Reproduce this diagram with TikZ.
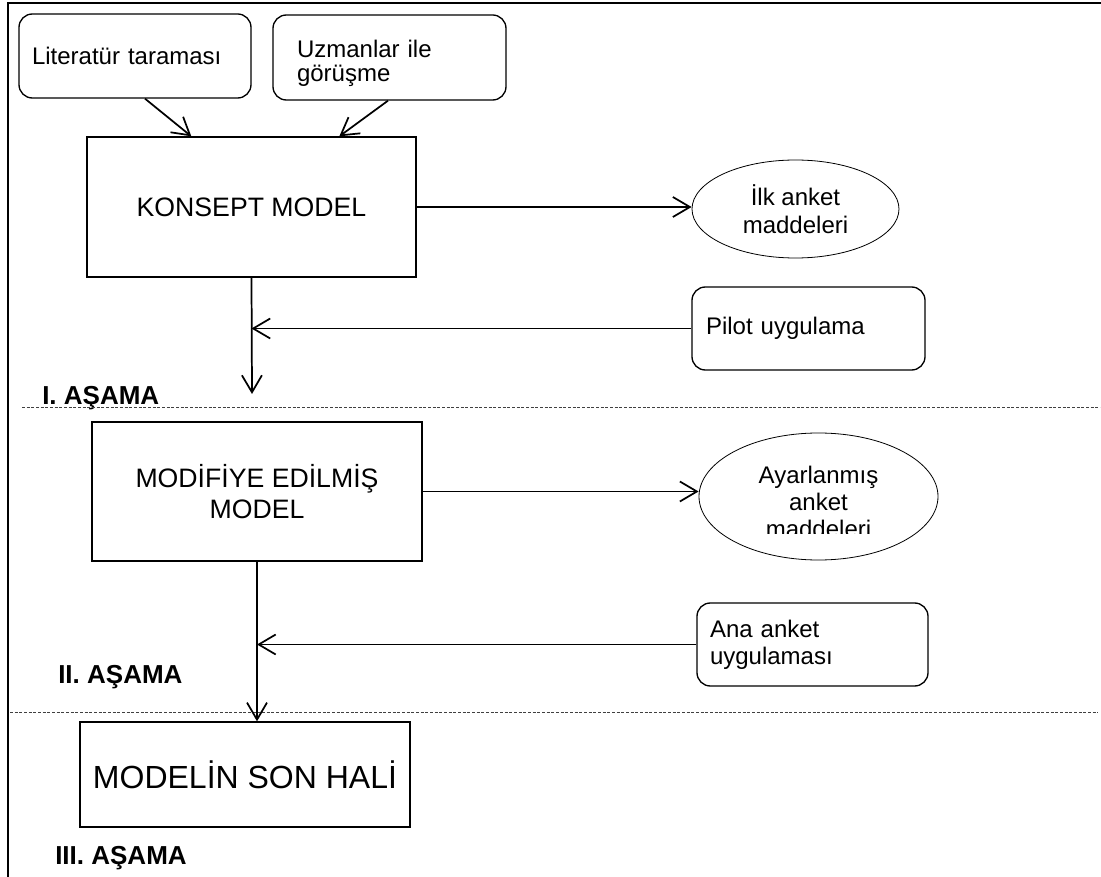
\documentclass[tikz,border=0pt]{standalone}
\usepackage{fontspec}
\setmainfont{Liberation Sans}
\usetikzlibrary{arrows.meta,shapes.geometric,calc}
\tikzset{
  roundbox/.style={draw, line width=1pt, rounded corners=10pt, align=left,
    font=\fontsize{18pt}{20pt}\selectfont},
  plainbox/.style={draw, line width=1pt, align=center, inner sep=0pt},
  oval/.style={draw, ellipse, line width=0.6pt, inner sep=0pt, align=center,
    font=\fontsize{18pt}{21pt}\selectfont},
  arr/.style={line width=1.3pt, -{Straight Barb[length=12.75pt,width=15pt,line width=1.3pt]}},
  stage/.style={font=\bfseries\fontsize{19.5pt}{22pt}\selectfont, anchor=base west, inner sep=0pt},
  sep/.style={dash pattern=on 2.2pt off 1.3pt, line width=0.6pt, black!75}
}
\begin{document}
\begin{tikzpicture}[x=0.75pt,y=-0.75pt]
  \useasboundingbox (0,0) rectangle (1101,877);
  % page frame (top and left edges)
  \coordinate (fb) at (8,877);
  \coordinate (fc) at (8,3);
  \coordinate (fr) at (1101,3);
  \draw[line width=1pt] (fb) -- (fc) -- (fr);

  % phase I
  \node[roundbox, minimum height=63pt, text width=154.5pt, inner xsep=9.75pt] (lit) at (135,56) {Literatür taraması};
  \node[roundbox, minimum height=63.75pt, text width=138.75pt, inner xsep=18pt,
    font=\fontsize{18pt}{18pt}\selectfont] (uzm) at (389.5,57.5) {\rule{0pt}{22pt}Uzmanlar ile\\görüşme};
  \node[plainbox, minimum width=246.75pt, minimum height=105pt, font=\fontsize{20pt}{23pt}\selectfont] (kon) at (251.5,207) {KONSEPT MODEL};
  \node[oval, minimum width=155.25pt, minimum height=73.5pt] (ilk) at (795.5,209) {İlk anket\\maddeleri};
  \node[roundbox, minimum height=62.25pt, text width=153.75pt, inner xsep=10.5pt] (pil) at (808.5,328.5) {Pilot uygulama};

  \draw[arr] ($(lit.south)+(10,0)$) -- ($(kon.north west)+(105,0)$);
  \draw[arr] ($(uzm.south)+(-1.5,0)$) -- ($(kon.north west)+(253,0)$);
  \draw[arr] (kon.east) -- (kon.east -| ilk.west);
  \coordinate (k1) at (252,394);
  \draw[arr] (kon.south) -- (k1);
  \draw[arr] (pil.west) -- (pil.west -| kon.south);

  \node[stage] (s1) at (42,405) {I. AŞAMA};
  \coordinate (d1a) at (22,407);
  \coordinate (d1b) at (1100,407);
  \draw[sep] (d1a) -- (d1b);

  % phase II
  \node[plainbox, minimum width=247.5pt, minimum height=104.25pt, font=\fontsize{20pt}{23.25pt}\selectfont] (mod) at (257,491.5) {MODİFİYE EDİLMİŞ\\MODEL};
  \node[oval, minimum width=179.25pt, minimum height=95.25pt] (aya) at (818.5,496.5) {};
  \begin{scope}
    \clip (700,440) rectangle (940,534);
    \node[align=center, inner sep=0pt, font=\fontsize{18pt}{20pt}\selectfont] (ayat) at (818.5,502) {Ayarlanmış\\anket\\maddeleri};
  \end{scope}
  \node[roundbox, minimum height=62.25pt, text width=153.75pt, inner xsep=9.75pt] (ana) at (812.5,644.5) {Ana anket\\uygulaması};

  \draw[arr] (mod.east) -- (mod.east -| aya.west);
  \draw[arr] (ana.west) -- (ana.west -| mod.south);

  \node[stage] (s2) at (58,683) {II. AŞAMA};
  \coordinate (d2a) at (10,712);
  \coordinate (d2b) at (1098,712);
  \draw[sep] (d2a) -- (d2b);

  % phase III
  \node[plainbox, minimum width=247.5pt, minimum height=78.75pt, font=\fontsize{24pt}{28pt}\selectfont] (son) at (245,774.5) {MODELİN SON HALİ};
  \draw[arr] (mod.south) -- (mod.south |- son.north);

  \node[stage] (s3) at (55,864) {III. AŞAMA};
\end{tikzpicture}
\end{document}
